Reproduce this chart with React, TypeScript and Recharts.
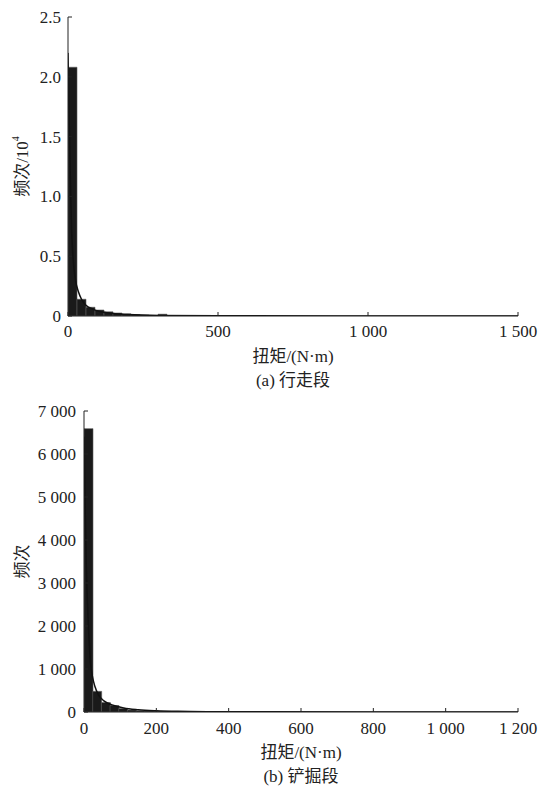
import React from 'react';
import { ComposedChart, Bar, Line, XAxis, YAxis, Label } from 'recharts';

// (a) walking stage: histogram bins (torque centre, N·m) and counts in 10^4
const walkBinCenters = [15, 45, 75, 105, 135, 165, 195, 225, 255, 285, 315];
const walkCounts = [2.08, 0.14, 0.073, 0.05, 0.035, 0.025, 0.018, 0.012, 0.008, 0.005, 0.015];
// fitted curve
const walkCurveX = [0, 3, 6, 9, 12, 18, 25, 35, 45, 60, 80, 110, 150, 200, 300, 500, 900, 1500];
const walkCurveY = [2.2, 1.75, 1.35, 1.0, 0.72, 0.45, 0.3, 0.2, 0.14, 0.09, 0.06, 0.035, 0.02, 0.012, 0.005, 0.002, 0.0005, 0];
const walkXTicks = [0, 500, 1000, 1500];
const walkYTicks = [0, 0.5, 1.0, 1.5, 2.0, 2.5];

// (b) digging stage
const digBinCenters = [12, 36, 60, 84, 108, 132, 156, 180, 204, 228, 252];
const digCounts = [6590, 480, 220, 150, 80, 45, 30, 22, 15, 10, 6];
const digCurveX = [0, 3, 6, 9, 12, 18, 24, 30, 40, 55, 80, 110, 150, 200, 260, 350, 500, 800, 1200];
const digCurveY = [6400, 4800, 3500, 2650, 2050, 1150, 800, 600, 400, 260, 160, 95, 55, 30, 15, 7, 3, 1, 0];
const digXTicks = [0, 200, 400, 600, 800, 1000, 1200];
const digYTicks = [0, 1000, 2000, 3000, 4000, 5000, 6000, 7000];

const FONT = "'Liberation Serif', 'Noto Sans CJK SC', serif";
const tickStyle = { fontSize: 17, fill: '#222', fontFamily: FONT };

const spaced = (v: number) =>
  v >= 1000 ? `${Math.floor(v / 1000)} ${String(v % 1000).padStart(3, '0')}` : String(v);

interface PanelProps {
  bins: { x: number; y: number }[];
  curve: { x: number; y: number }[];
  xMax: number;
  yMax: number;
  xTicks: number[];
  yTicks: number[];
  yFmt: (v: number) => string;
  yAxisWidth: number;
  height: number;
  top: number;
  bottomSpace: number;
  yLabel: React.ReactNode;
  caption: string;
  yTickMargin: number;
  xTickMargin: number;
}

const Panel: React.FC<PanelProps> = (p) => (
  <ComposedChart
    width={540}
    height={p.height}
    data={p.bins}
    barCategoryGap={0}
    margin={{ top: p.top, right: 22, bottom: p.bottomSpace - 30, left: 0 }}
  >
    <XAxis
      dataKey="x"
      type="number"
      domain={[0, p.xMax]}
      ticks={p.xTicks}
      interval={0}
      tickFormatter={spaced}
      tick={tickStyle}
      tickSize={-4}
      tickMargin={p.xTickMargin}
      height={30}
      stroke="#222"
      allowDataOverflow
    >
      <Label
        content={({ viewBox }: any) => {
          const cx = viewBox.x + viewBox.width / 2;
          return (
            <g fontFamily={FONT} fontSize={17} fill="#222" textAnchor="middle">
              <text x={cx} y={viewBox.y + 40} dominantBaseline="central">扭矩/(N·m)</text>
              <text x={cx} y={viewBox.y + 64} dominantBaseline="central">{p.caption}</text>
            </g>
          );
        }}
      />
    </XAxis>
    <XAxis
      xAxisId="c"
      dataKey="x"
      type="number"
      orientation="top"
      domain={[0, p.xMax]}
      height={0}
      tick={false}
      tickLine={false}
      stroke="#444"
      allowDataOverflow
    />
    <YAxis
      type="number"
      domain={[0, p.yMax]}
      ticks={p.yTicks}
      interval={0}
      tickFormatter={p.yFmt}
      tick={tickStyle}
      tickSize={-4}
      tickMargin={p.yTickMargin}
      width={p.yAxisWidth}
      stroke="#222"
      allowDataOverflow
    >
      <Label
        content={({ viewBox }: any) => {
          const cy = viewBox.y + viewBox.height / 2;
          return (
            <text
              x={22}
              y={cy}
              transform={`rotate(-90 22 ${cy})`}
              textAnchor="middle"
              dominantBaseline="central"
              fontFamily={FONT}
              fontSize={17}
              fill="#222"
            >
              {p.yLabel}
            </text>
          );
        }}
      />
    </YAxis>
    <YAxis yAxisId="r" orientation="right" width={0} domain={[0, 1]} tick={false} tickLine={false} stroke="#444" />
    <Bar dataKey="y" fill="#1a1a1a" stroke="#5a5a5a" strokeWidth={0.6} isAnimationActive={false} />
    <Line
      xAxisId="c"
      data={p.curve}
      dataKey="y"
      type="monotone"
      stroke="#111"
      strokeWidth={1.5}
      dot={false}
      activeDot={false}
      isAnimationActive={false}
    />
  </ComposedChart>
);

export default function App() {
  const walkBins = walkBinCenters.map((x, i) => ({ x, y: walkCounts[i] }));
  const walkCurve = walkCurveX.map((x, i) => ({ x, y: walkCurveY[i] }));
  const digBins = digBinCenters.map((x, i) => ({ x, y: digCounts[i] }));
  const digCurve = digCurveX.map((x, i) => ({ x, y: digCurveY[i] }));

  return (
    <div style={{ position: 'absolute', left: 0, top: 0, width: 540, height: 788, background: '#fff' }}>
      <div style={{ position: 'absolute', left: 0, top: 0 }}>
        <Panel
          bins={walkBins}
          curve={walkCurve}
          xMax={1500}
          yMax={2.5}
          xTicks={walkXTicks}
          yTicks={walkYTicks}
          yFmt={(v) => (v === 0 ? '0' : v.toFixed(1))}
          yAxisWidth={68}
          height={395}
          top={17}
          bottomSpace={79}
          yTickMargin={11}
          xTickMargin={13}
          yLabel={
            <>
              频次/10<tspan dy={-7} fontSize={10}>4</tspan>
            </>
          }
          caption="(a) 行走段"
        />
      </div>
      <div style={{ position: 'absolute', left: 0, top: 395 }}>
        <Panel
          bins={digBins}
          curve={digCurve}
          xMax={1200}
          yMax={7000}
          xTicks={digXTicks}
          yTicks={digYTicks}
          yFmt={spaced}
          yAxisWidth={84}
          height={393}
          top={16}
          bottomSpace={76}
          yTickMargin={12}
          xTickMargin={14}
          yLabel="频次"
          caption="(b) 铲掘段"
        />
      </div>
    </div>
  );
}
